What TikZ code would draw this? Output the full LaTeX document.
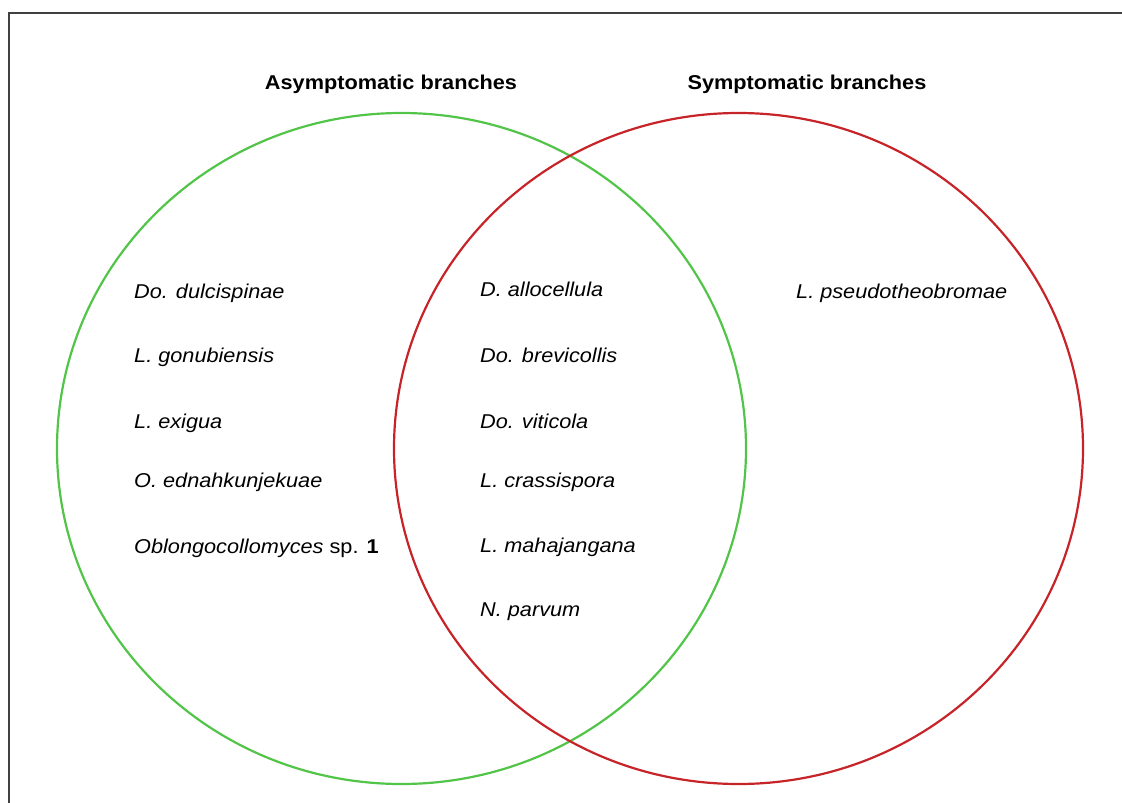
\documentclass[tikz,border=0pt]{standalone}
\usepackage{fontspec}
\setmainfont{Liberation Sans}
\usetikzlibrary{shapes.geometric}
\definecolor{asymgreen}{RGB}{82,196,72}
\definecolor{symred}{RGB}{198,36,40}
\definecolor{framegray}{RGB}{64,64,64}
% text in the figure is set slightly wide
\newcommand\widetext[1]{\scalebox{1.085}[1]{#1}}
\begin{document}
\begin{tikzpicture}[x=1pt,y=-1pt,
  setcircle/.style={ellipse, minimum width=689pt, minimum height=671pt, inner sep=0pt, line width=2.2pt},
  species/.style={anchor=base west, inner sep=0pt, font=\fontsize{20}{24}\selectfont\itshape},
  heading/.style={anchor=base, inner sep=0pt, font=\fontsize{20}{24}\selectfont\bfseries}]
\useasboundingbox (0,0) rectangle (1122,803);
\draw[framegray, line width=2pt] (8.5,803) -- (8.5,12.5) -- (1122,12.5);

\node[setcircle, draw=asymgreen] (asym) at (401.5,448.5) {};
\node[setcircle, draw=symred] (sym) at (738.5,448.5) {};

\node[heading] (hasym) at (391,89) {\widetext{Asymptomatic branches}};
\node[heading] (hsym) at (807,89) {\widetext{Symptomatic branches}};

% asymptomatic only
\node[species] (a1) at (134,298) {\widetext{Do. dulcispinae}};
\node[species] (a2) at (134,362) {\widetext{L. gonubiensis}};
\node[species] (a3) at (134,428) {\widetext{L. exigua}};
\node[species] (a4) at (134,487) {\widetext{O. ednahkunjekuae}};
\node[species] (a5) at (134,553) {\widetext{Oblongocollomyces\upshape{} sp. \textbf{1}}};

% shared
\node[species] (b1) at (480,296) {\widetext{D. allocellula}};
\node[species] (b2) at (480,362) {\widetext{Do. brevicollis}};
\node[species] (b3) at (480,428) {\widetext{Do. viticola}};
\node[species] (b4) at (480,487) {\widetext{L. crassispora}};
\node[species] (b5) at (480,552) {\widetext{L. mahajangana}};
\node[species] (b6) at (480,616) {\widetext{N. parvum}};

% symptomatic only
\node[species] (c1) at (796,298) {\widetext{L. pseudotheobromae}};
\end{tikzpicture}
\end{document}
